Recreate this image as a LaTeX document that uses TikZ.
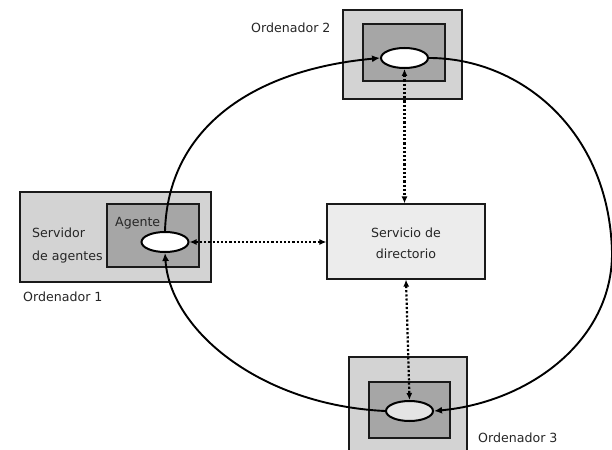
\documentclass[tikz,border=0pt]{standalone}
\usepackage{fontspec}
\setmainfont{DejaVu Sans}
\usetikzlibrary{arrows.meta,shapes.geometric}
\definecolor{outerg}{HTML}{D3D3D3}
\definecolor{innerg}{HTML}{A6A6A6}
\definecolor{srvg}{HTML}{ECECEC}
\definecolor{e3g}{HTML}{E4E4E4}
\definecolor{edge}{HTML}{1A1A1A}
\tikzset{
  outerbox/.style={draw=edge, line width=1.2pt, fill=outerg, inner sep=0pt},
  innerbox/.style={draw=edge, line width=1.2pt, fill=innerg, inner sep=0pt},
  srvbox/.style={draw=edge, line width=1.2pt, fill=srvg, inner sep=0pt},
  agent/.style={ellipse, draw=black, line width=2pt, fill=white, minimum width=47pt, minimum height=20pt, inner sep=0pt},
  lbl/.style={font=\fontsize{12.6}{15}\selectfont, inner sep=0pt, text=black!85},
  loop/.style={line width=1.9pt, -{Latex[length=8pt,width=7pt]}},
  dots/.style={line width=2.2pt, dash pattern=on 2.2pt off 2pt, {Latex[length=7pt,width=6pt]}-{Latex[length=7pt,width=6pt]}},
}
\begin{document}
\begin{tikzpicture}[x=1pt,y=-1pt]
\clip (0,0) rectangle (612,449);
\fill[white] (0,0) rectangle (612,449);
% Ordenador 1
\node[outerbox, minimum width=191pt, minimum height=90pt] (o1) at (115.5,237) {};
\node[innerbox, minimum width=92pt, minimum height=63pt] (i1) at (153,235.5) {};
% Ordenador 2
\node[outerbox, minimum width=119pt, minimum height=89pt] (o2) at (402.5,54.5) {};
\node[innerbox, minimum width=82pt, minimum height=57pt] (i2) at (404,52.5) {};
% Ordenador 3
\node[outerbox, minimum width=118pt, minimum height=103pt] (o3) at (408,408.5) {};
\node[innerbox, minimum width=81pt, minimum height=56pt] (i3) at (409.5,410) {};
% Servicio
\node[srvbox, minimum width=158pt, minimum height=75pt] (srv) at (406,241.5) {};
% agents
\node[agent] (e1) at (165,242) {};
\node[agent] (e2) at (404.5,58) {};
\node[agent, fill=e3g] (e3) at (409.5,411) {};
% texts
\node[lbl, anchor=base west] (t1a) at (32,237) {Servidor};
\node[lbl, anchor=base west] (t1b) at (32,260) {de agentes};
\node[lbl, anchor=base west] (tag) at (115,226) {Agente};
\node[lbl, anchor=base west] (to1) at (23,301) {Ordenador 1};
\node[lbl, anchor=base west] (to2) at (251,33) {Ordenador 2};
\node[lbl, anchor=base west] (to3) at (478,442) {Ordenador 3};
\node[lbl, anchor=base] (ts1) at (406,237) {Servicio de};
\node[lbl, anchor=base] (ts2) at (406,258) {directorio};
% loop
\draw[loop] (e1.north) .. controls (168,130) and (250,70) .. (e2.west);
\coordinate (rx) at (612,252);
\draw[line width=1.9pt] (e2.east) .. controls (520,58) and (609,130) .. (rx);
\draw[loop] (rx) .. controls (613,340) and (530,402) .. (e3.east);
\draw[loop] (e3.west) .. controls (260,405) and (170,330) .. (e1.south);
% dotted
\draw[dots] (e1.east) -- (srv.west |- e1.east);
\draw[dots] (e2.south) -- (e2.south |- srv.north);
\draw[dots] (srv.south) -- (e3.north);
\end{tikzpicture}
\end{document}
